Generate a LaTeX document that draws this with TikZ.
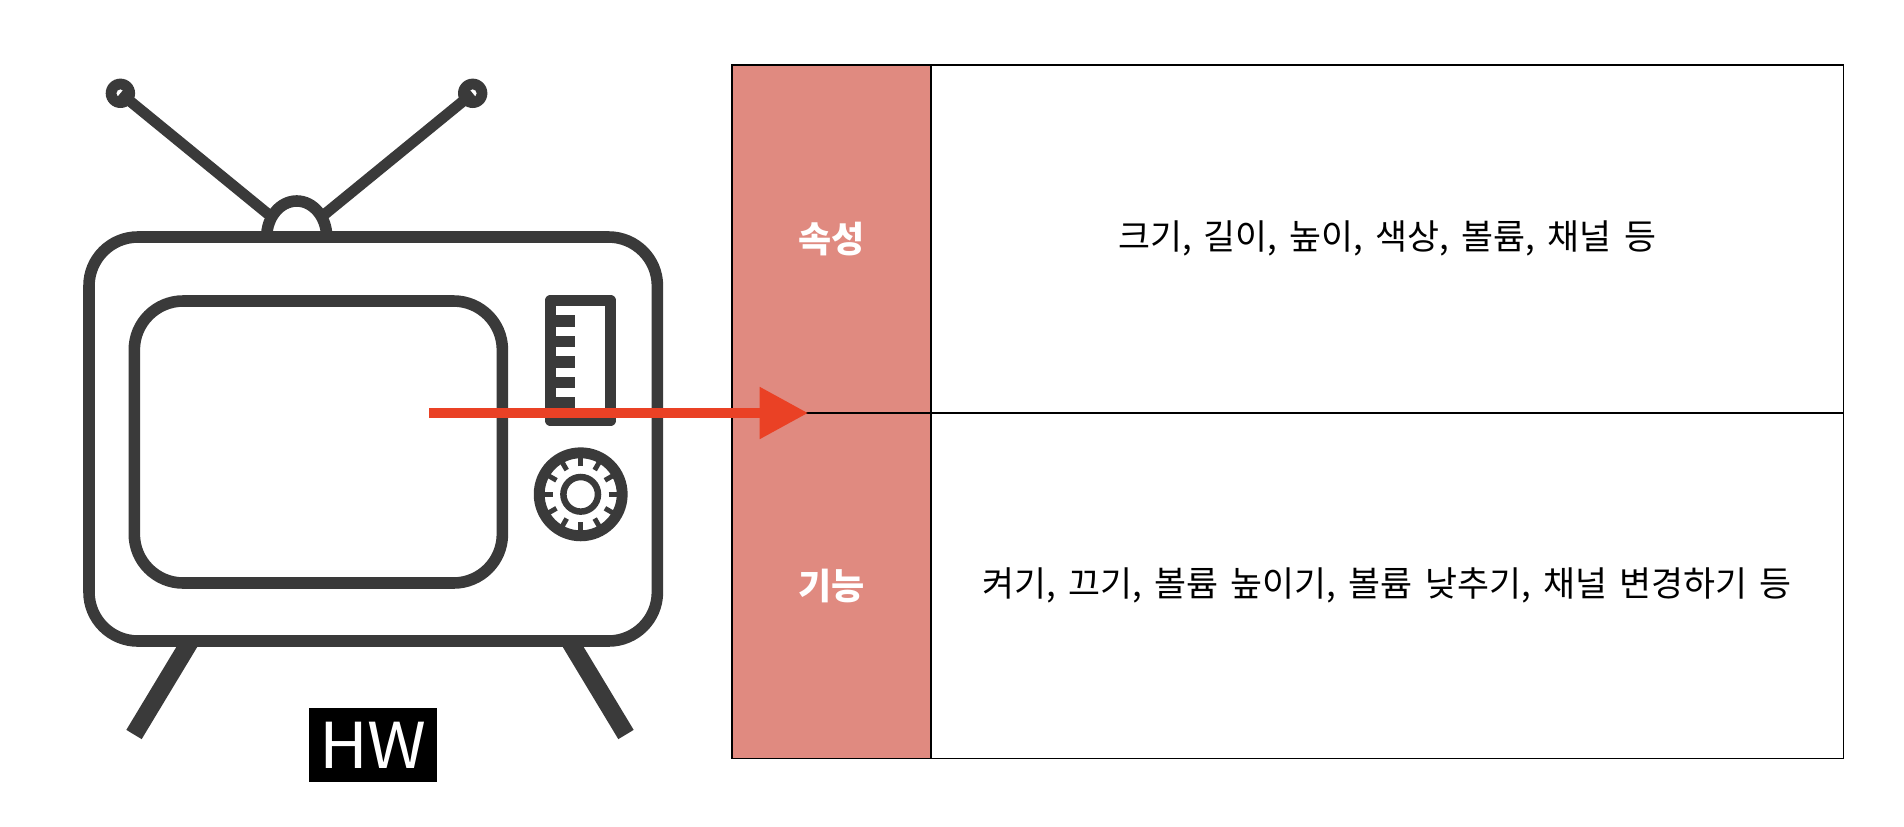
\documentclass[tikz,border=0pt]{standalone}
\usepackage{fontspec}
\setmainfont{Noto Sans CJK KR}
\usetikzlibrary{arrows.meta}
\definecolor{tvgray}{HTML}{3A3A3A}
\definecolor{rowred}{HTML}{E08A80}
\definecolor{arrowred}{HTML}{EA4125}
\newcommand{\bodyfont}{\fontsize{19.8}{19.8}\selectfont\spaceskip 7pt\relax}
\tikzset{
  tvline/.style={draw=tvgray,line width=6.6pt},
  headcell/.style={draw=black,line width=1pt,fill=rowred,text=white,font=\fontsize{20.5}{20.5}\selectfont\bfseries,minimum width=3.968cm,inner sep=0pt},
  bodycell/.style={draw=black,line width=1pt,fill=white,text=black,font=\bodyfont,minimum width=18.256cm,inner sep=0pt}
}
\begin{document}
\begin{tikzpicture}[x=0.02cm,y=-0.02cm,>={Triangle[length=27.5pt,width=28.3pt]}]
  \useasboundingbox (0,0) rectangle (1904,826);
  % table
  \node[headcell,minimum height=6.954cm] (attrhead) at (831.5,238.85) {속성};
  \node[bodycell,minimum height=6.954cm] (attrbody) at (1387.1,238.85) {크기, 길이, 높이, 색상, 볼륨, 채널 등};
  \node[headcell,minimum height=6.916cm] (funchead) at (831.5,585.6) {기능};
  \node[bodycell,minimum height=6.916cm] (funcbody) at (1387.1,585.6) {켜기, 끄기, 볼륨 높이기, 볼륨 낮추기, 채널 변경하기 등};
  % tv set
  \draw[tvline,line width=10.2pt] (191,640)--(134,734.5);
  \draw[tvline,line width=10.2pt] (569,640)--(626,734.5);
  \draw[tvline] (266.7,237) arc[start angle=180,end angle=360,x radius=30,y radius=36];
  \draw[tvline,line width=6.2pt] (120.4,93.3)--(268,214);
  \draw[tvline,line width=6.2pt] (472.7,93.3)--(325,214);
  \fill[tvgray,even odd rule] (120.4,93.3) circle[radius=14.7] (120.4,93.3) circle[radius=4];
  \fill[tvgray,even odd rule] (472.7,93.3) circle[radius=14.7] (472.7,93.3) circle[radius=4];
  \draw[tvline,rounded corners=27.8pt] (89,237) rectangle (657.4,641);
  \draw[tvline,rounded corners=27.8pt] (134.3,301) rectangle (502.4,583);
  \draw[tvline,line join=round] (550.5,300.5) rectangle (610.5,420.5);
  \foreach \y in {321,341.5,362,382.5,402.5}
    \draw[tvline,line width=6.4pt] (553,\y)--(575,\y);
  \draw[tvline,line width=6.2pt] (580.7,494.3) circle[radius=41.5];
  \draw[tvline,line width=3.7pt] (580.7,494.3) circle[radius=17.3];
  \foreach \a in {0,30,...,330}
    \draw[tvline,line width=2.8pt] (580.7,494.3)+(\a:28)--+(\a:38);
  \node[fill=black,text=white,font=\fontsize{36}{36}\selectfont,minimum width=2.56cm,minimum height=1.48cm,inner sep=0pt] (hwtag) at (373,745) {\scalebox{1.06}[1]{HW}};
  % arrow
  \coordinate (tvpoint) at (429,413);
  \coordinate (rowline) at (808,413);
  \draw[->,arrowred,line width=5.3pt] (tvpoint)--(rowline);
\end{tikzpicture}
\end{document}
